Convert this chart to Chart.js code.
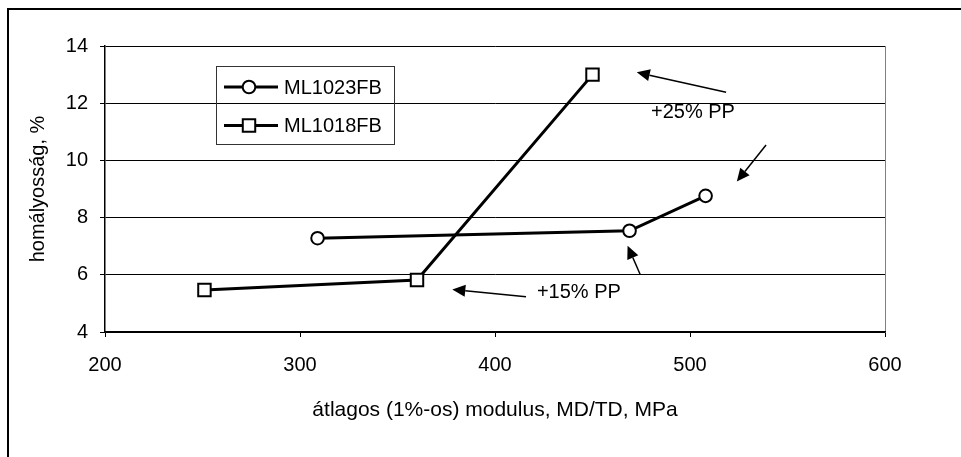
<!DOCTYPE html>
<html>
<head>
<meta charset="utf-8">
<script src="https://cdn.jsdelivr.net/npm/chart.js@4"></script>
<style>
  html, body { margin: 0; padding: 0; background: #fff; }
  canvas { display: block; }
</style>
</head>
<body>
<canvas id="canvas" width="961" height="457"></canvas>
<script>
var seriesNames = ["ML1023FB", "ML1018FB"];
var ml1023X = [309, 469, 508];
var ml1023Y = [7.28, 7.54, 8.76];
var ml1018X = [251, 360, 450];
var ml1018Y = [5.47, 5.82, 13.0];
var xTicks = [200, 300, 400, 500, 600];
var yTicks = [4, 6, 8, 10, 12, 14];
var xTitle = "átlagos (1%-os) modulus, MD/TD, MPa";
var yTitle = "homályosság, %";

// arrows in axis units: [fromX, fromY, toX, toY]
var arrows = [
  [518.5, 12.38, 472.7, 13.08],
  [539, 10.54, 524, 9.26],
  [474.4, 6.02, 468, 7.02],
  [415.9, 5.23, 378.1, 5.49]
];
var notes = [
  { text: "+25% PP", x: 501.5, y: 11.66 },
  { text: "+15% PP", x: 443, y: 5.37 }
];

var FONT = '"Liberation Sans", Arial, sans-serif';

function toPoints(xs, ys) {
  return xs.map(function (x, i) { return { x: x, y: ys[i] }; });
}

function marker(c, style, r, x, y) {
  c.beginPath();
  if (style === 'rect') {
    var s = r * Math.SQRT1_2;
    c.rect(x - s, y - s, 2 * s, 2 * s);
  } else {
    c.arc(x, y, r, 0, Math.PI * 2);
  }
  c.fillStyle = '#fff';
  c.fill();
  c.lineWidth = 2;
  c.strokeStyle = '#000';
  c.stroke();
}

var extras = {
  id: 'extras',
  beforeDraw: function (chart) {
    var c = chart.ctx;
    c.save();
    c.fillStyle = '#fff';
    c.fillRect(0, 0, chart.width, chart.height);
    c.strokeStyle = '#000';
    c.lineWidth = 2;
    c.beginPath();
    c.moveTo(8, chart.height);
    c.lineTo(8, 9);
    c.lineTo(chart.width, 9);
    c.stroke();
    c.restore();
  },
  afterDatasetsDraw: function (chart) {
    var c = chart.ctx, xs = chart.scales.x, ys = chart.scales.y;
    c.save();
    c.strokeStyle = '#000';
    c.fillStyle = '#000';
    arrows.forEach(function (a) {
      var x1 = xs.getPixelForValue(a[0]), y1 = ys.getPixelForValue(a[1]);
      var x2 = xs.getPixelForValue(a[2]), y2 = ys.getPixelForValue(a[3]);
      var ang = Math.atan2(y2 - y1, x2 - x1), len = 13, w = 6;
      var bx = x2 - len * Math.cos(ang), by = y2 - len * Math.sin(ang);
      c.lineWidth = 1.5;
      c.beginPath(); c.moveTo(x1, y1); c.lineTo(bx, by); c.stroke();
      c.beginPath();
      c.moveTo(x2, y2);
      c.lineTo(bx + w * Math.sin(ang), by - w * Math.cos(ang));
      c.lineTo(bx - w * Math.sin(ang), by + w * Math.cos(ang));
      c.closePath();
      c.fill();
    });
    c.font = '20px ' + FONT;
    c.textAlign = 'center';
    c.textBaseline = 'middle';
    notes.forEach(function (n) {
      c.fillText(n.text, xs.getPixelForValue(n.x), ys.getPixelForValue(n.y));
    });

    // legend box
    c.lineWidth = 1;
    c.strokeStyle = '#333';
    c.strokeRect(216.5, 66.5, 178, 78);
    chart.data.datasets.forEach(function (ds, i) {
      var y = 87 + i * 38.5;
      c.strokeStyle = '#000';
      c.lineWidth = 3;
      c.beginPath(); c.moveTo(224, y); c.lineTo(278, y); c.stroke();
      marker(c, ds.pointStyle, ds.pointRadius, 249, y);
      c.fillStyle = '#000';
      c.textAlign = 'left';
      c.textBaseline = 'middle';
      c.fillText(ds.label, 284, y + 1);
    });
    c.restore();
  }
};

var ctx = document.getElementById("canvas").getContext("2d");
var myChart = new Chart(ctx, {
  type: 'scatter',
  data: {
    datasets: [
      {
        label: seriesNames[0],
        data: toPoints(ml1023X, ml1023Y),
        showLine: true,
        borderColor: '#000',
        borderWidth: 3,
        pointStyle: 'circle',
        pointRadius: 6.3,
        pointBorderWidth: 2,
        pointBackgroundColor: '#fff',
        pointBorderColor: '#000'
      },
      {
        label: seriesNames[1],
        data: toPoints(ml1018X, ml1018Y),
        showLine: true,
        borderColor: '#000',
        borderWidth: 3,
        pointStyle: 'rect',
        pointRadius: 8.8,
        pointBorderWidth: 2,
        pointBackgroundColor: '#fff',
        pointBorderColor: '#000'
      }
    ]
  },
  options: {
    responsive: false,
    animation: false,
    events: [],
    layout: { padding: { left: 10, top: 46, right: 76, bottom: 0 } },
    plugins: { legend: { display: false }, tooltip: { enabled: false } },
    scales: {
      x: {
        type: 'linear',
        position: 'bottom',
        min: xTicks[0],
        max: xTicks[xTicks.length - 1],
        afterBuildTicks: function (s) { s.ticks = xTicks.map(function (v) { return { value: v }; }); },
        afterFit: function (s) { s.height = 125; },
        ticks: { padding: 16, color: '#000', font: { family: FONT, size: 20 } },
        grid: {
          drawOnChartArea: true,
          color: function (c) { return c.tick && c.tick.value === 600 ? '#808080' : 'rgba(0,0,0,0)'; },
          tickColor: '#000',
          tickLength: 5,
          lineWidth: 1
        },
        border: { color: '#000', width: 1.5 },
        title: { display: true, text: xTitle, color: '#000', font: { family: FONT, size: 21 }, padding: { top: 0, bottom: 34 } }
      },
      y: {
        type: 'linear',
        position: 'left',
        min: yTicks[0],
        max: yTicks[yTicks.length - 1],
        afterBuildTicks: function (s) { s.ticks = yTicks.map(function (v) { return { value: v }; }); },
        afterFit: function (s) { s.width = 95; },
        ticks: { padding: 12, color: '#000', font: { family: FONT, size: 20 } },
        grid: { color: '#000', tickColor: '#000', tickLength: 5, lineWidth: 1 },
        border: { color: '#000', width: 1.5 },
        title: { display: true, text: yTitle, color: '#000', font: { family: FONT, size: 20 }, padding: { top: 16, bottom: 0 } }
      }
    }
  },
  plugins: [extras]
});
</script>
</body>
</html>
